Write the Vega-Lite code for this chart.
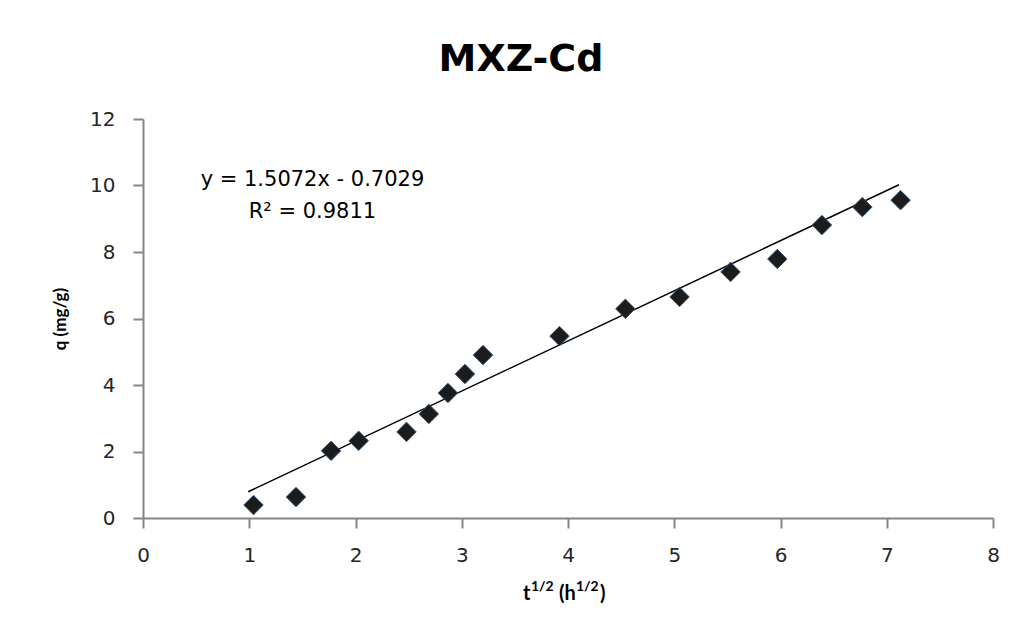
{
  "$schema": "https://vega.github.io/schema/vega-lite/v6.json",
  "width": 850,
  "height": 399,
  "autosize": {"type": "none"},
  "padding": {"left": 143, "top": 119, "right": 33, "bottom": 121},
  "background": "white",
  "config": {
    "font": "DejaVu Sans",
    "view": {"stroke": null},
    "axis": {
      "domainColor": "#868686",
      "domainWidth": 2,
      "tickColor": "#868686",
      "tickWidth": 2,
      "tickSize": 10,
      "grid": false,
      "labelFont": "DejaVu Sans",
      "labelFontSize": 20,
      "labelColor": "#262626",
      "labelFlush": false,
      "titleFont": "Lato",
      "titleFontSize": 17,
      "titleFontWeight": "bold",
      "titleColor": "#000000"
    }
  },
  "title": {
    "text": "MXZ-Cd",
    "font": "DejaVu Sans",
    "fontSize": 38,
    "fontWeight": "bold",
    "color": "#000000",
    "anchor": "middle",
    "baseline": "alphabetic",
    "dx": -47,
    "offset": 0
  },
  "datasets": {
    "points": [
      {"x": 1.04, "q": 0.39},
      {"x": 1.44, "q": 0.63},
      {"x": 1.77, "q": 2.02},
      {"x": 2.03, "q": 2.32},
      {"x": 2.48, "q": 2.59},
      {"x": 2.69, "q": 3.13},
      {"x": 2.87, "q": 3.76},
      {"x": 3.03, "q": 4.33},
      {"x": 3.2, "q": 4.9},
      {"x": 3.92, "q": 5.47},
      {"x": 4.54, "q": 6.29},
      {"x": 5.05, "q": 6.65},
      {"x": 5.53, "q": 7.4},
      {"x": 5.97, "q": 7.79},
      {"x": 6.39, "q": 8.81},
      {"x": 6.77, "q": 9.35},
      {"x": 7.13, "q": 9.56}
    ],
    "trend": [
      {"x": 0.99, "q": 0.789},
      {"x": 7.115, "q": 10.021}
    ],
    "labels": [
      {"x": 1.595, "q": 10.17, "label": "y = 1.5072x - 0.7029"},
      {"x": 1.595, "q": 9.2, "label": "R² = 0.9811"}
    ],
    "xtitle_main": [
      {"x": 3.576, "q": -2.47, "label": "t"},
      {"x": 3.915, "q": -2.47, "label": "(h"},
      {"x": 4.301, "q": -2.47, "label": ")"}
    ],
    "xtitle_sup": [
      {"x": 3.651, "q": -2.2, "label": "1/2"},
      {"x": 4.075, "q": -2.2, "label": "1/2"}
    ]
  },
  "layer": [
    {
      "data": {"name": "trend"},
      "mark": {"type": "line", "color": "#000000", "strokeWidth": 1.5},
      "encoding": {
        "x": {
          "field": "x", "type": "quantitative",
          "scale": {"domain": [0, 8], "nice": false},
          "axis": {"values": [0, 1, 2, 3, 4, 5, 6, 7, 8], "format": "d", "title": null, "labelPadding": 17, "labelDx": -3}
        },
        "y": {
          "field": "q", "type": "quantitative",
          "scale": {"domain": [0, 12], "nice": false},
          "axis": {"values": [0, 2, 4, 6, 8, 10, 12], "title": "q (mg/g)", "labelPadding": 18, "titlePadding": 20}
        }
      }
    },
    {
      "data": {"name": "points"},
      "mark": {"type": "point", "shape": "diamond", "filled": true, "size": 380, "color": "#1c1c1c", "stroke": "#34557a", "strokeWidth": 1, "opacity": 1},
      "encoding": {
        "x": {"field": "x", "type": "quantitative"},
        "y": {"field": "q", "type": "quantitative"}
      }
    },
    {
      "data": {"name": "labels"},
      "mark": {"type": "text", "font": "DejaVu Sans", "fontSize": 21, "color": "#000000", "align": "center", "baseline": "middle"},
      "encoding": {
        "x": {"field": "x", "type": "quantitative"},
        "y": {"field": "q", "type": "quantitative"},
        "text": {"field": "label"}
      }
    },
    {
      "data": {"name": "xtitle_main"},
      "mark": {"type": "text", "font": "Lato", "fontSize": 20, "fontWeight": "bold", "color": "#000000", "align": "left", "baseline": "alphabetic", "clip": false},
      "encoding": {
        "x": {"field": "x", "type": "quantitative"},
        "y": {"field": "q", "type": "quantitative"},
        "text": {"field": "label"}
      }
    },
    {
      "data": {"name": "xtitle_sup"},
      "mark": {"type": "text", "font": "Lato", "fontSize": 14, "fontWeight": "bold", "color": "#000000", "align": "left", "baseline": "alphabetic", "clip": false},
      "encoding": {
        "x": {"field": "x", "type": "quantitative"},
        "y": {"field": "q", "type": "quantitative"},
        "text": {"field": "label"}
      }
    }
  ]
}
